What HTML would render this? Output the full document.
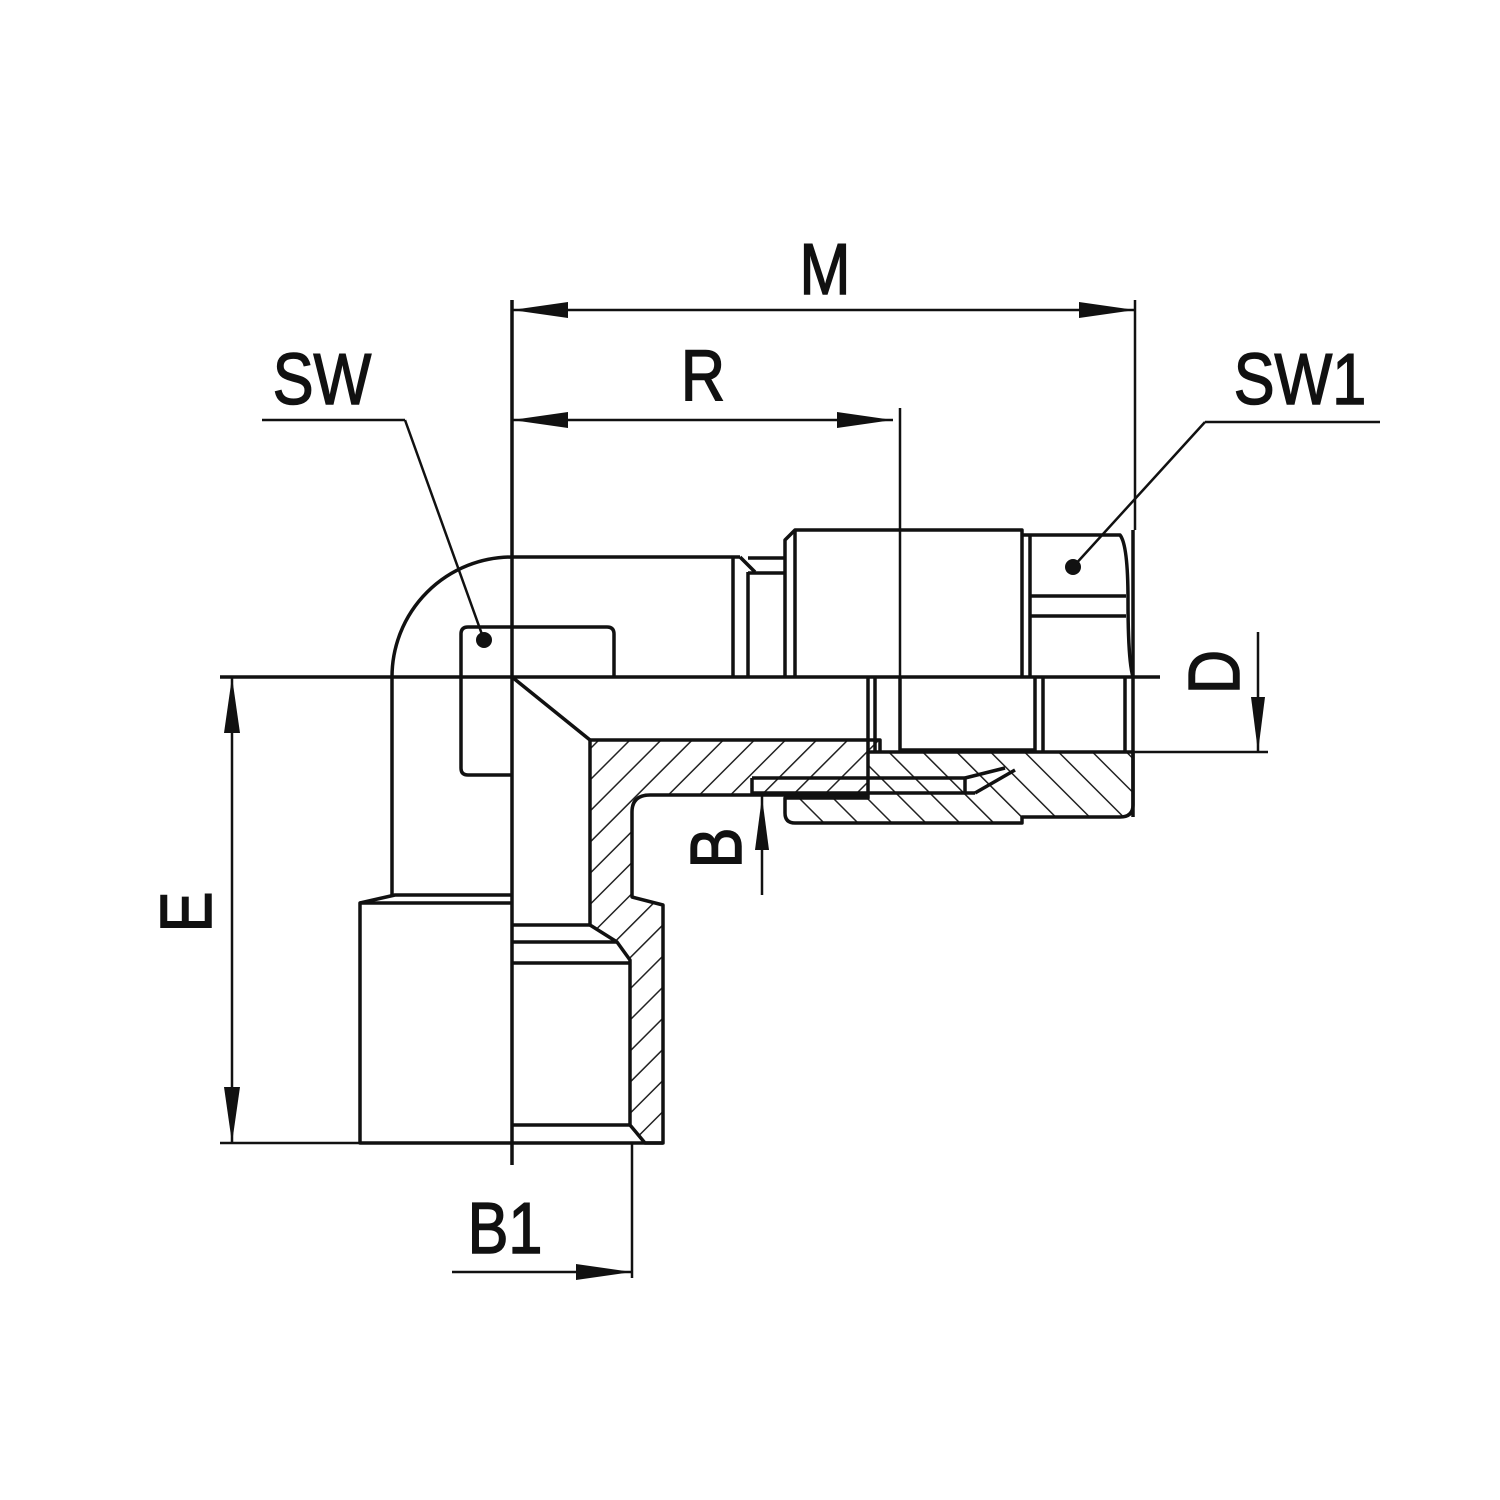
<!DOCTYPE html>
<html><head><style>html,body{margin:0;padding:0;background:#fff}svg{display:block}</style></head><body>
<svg width="1500" height="1500" viewBox="0 0 1500 1500" xmlns="http://www.w3.org/2000/svg">
<defs>
<pattern id="h" patternUnits="userSpaceOnUse" width="22" height="22" patternTransform="rotate(45)">
<rect width="22" height="22" fill="#fff"/><line x1="0" y1="0" x2="0" y2="22" stroke="#222" stroke-width="3"/>
</pattern>
<pattern id="h2" patternUnits="userSpaceOnUse" width="24" height="24" patternTransform="rotate(-45)">
<rect width="24" height="24" fill="#fff"/><line x1="0" y1="0" x2="0" y2="24" stroke="#222" stroke-width="3"/>
</pattern>
</defs>
<g fill="none" stroke="#111" stroke-width="3.5" stroke-linejoin="round">
<path fill="url(#h)" d="M590,740 L880,740 L880,795 L650,795 Q632,795 632,812 L632,897 L663,905 L663,1143 L645,1143 L630,1125 L630,960 L617,942 L590,925 Z"/>
<path fill="url(#h2)" d="M868,752 L1133,752 L1133,805 Q1133,817 1120,817 L1022,817 L1022,823 L795,823 Q785,823 785,813 L785,798 L868,798 Z"/>
<line x1="752" y1="778" x2="965" y2="778"/><line x1="752" y1="793" x2="975" y2="793"/>
<line x1="965" y1="778" x2="1005" y2="768"/><line x1="965" y1="778" x2="965" y2="793"/><line x1="975" y1="793" x2="1015" y2="770"/>
<line x1="752" y1="778" x2="752" y2="795"/>
<path d="M392,895 L392,677 A120,120 0 0 1 512,557 L740,557"/>
<line x1="733" y1="557" x2="733" y2="677"/><line x1="748" y1="572" x2="748" y2="677"/>
<line x1="740" y1="557" x2="755" y2="572"/>
<line x1="748" y1="558" x2="785" y2="558"/><line x1="748" y1="573" x2="785" y2="573"/>
<path d="M512,775 L468,775 Q461,775 461,768 L461,634 Q461,627 468,627 L607,627 Q614,627 614,634 L614,677"/>
<line x1="512" y1="677" x2="590" y2="740"/>
<path d="M785,677 L785,540 L795,530 L1022,530 L1022,677"/>
<line x1="795" y1="530" x2="795" y2="677"/>
<line x1="1030" y1="535" x2="1030" y2="677"/>
<path d="M1022,535 L1120,535 Q1128,545 1128,600 Q1128,660 1133,677"/>
<line x1="1030" y1="596" x2="1126" y2="596"/><line x1="1030" y1="616" x2="1126" y2="616"/>
<line x1="868" y1="677" x2="868" y2="752"/><line x1="875" y1="677" x2="875" y2="752"/>
<line x1="1035" y1="677" x2="1035" y2="752"/><line x1="1043" y1="677" x2="1043" y2="752"/>
<line x1="1125" y1="677" x2="1125" y2="752"/>
<path d="M900,677 L900,750 L1035,750"/>
<line x1="1133" y1="530" x2="1133" y2="817"/>
<path d="M512,903 L360,903 L360,1143 L512,1143"/>
<path d="M360,903 L395,895 L512,895"/>
<line x1="512" y1="925" x2="590" y2="925"/>
<line x1="512" y1="942" x2="617" y2="942"/>
<line x1="512" y1="963" x2="630" y2="963"/>
<line x1="512" y1="1125" x2="630" y2="1125"/>
<line x1="512" y1="1143" x2="663" y2="1143"/>
<line x1="512" y1="300" x2="512" y2="1165"/>
<line x1="220" y1="677" x2="1160" y2="677"/>
</g>
<g stroke="#111" stroke-width="2.5" fill="none">
<line x1="1135" y1="300" x2="1135" y2="530"/>
<line x1="900" y1="408" x2="900" y2="677"/>
<line x1="512" y1="310" x2="1135" y2="310"/>
<line x1="512" y1="420" x2="893" y2="420"/>
<line x1="262" y1="420" x2="405" y2="420"/><line x1="405" y1="420" x2="484" y2="640"/>
<line x1="1205" y1="422" x2="1380" y2="422"/><line x1="1205" y1="422" x2="1073" y2="567"/>
<line x1="232" y1="677" x2="232" y2="1143"/>
<line x1="220" y1="1143" x2="360" y2="1143"/>
<line x1="632" y1="1143" x2="632" y2="1278"/>
<line x1="452" y1="1272" x2="632" y2="1272"/>
<line x1="762" y1="795" x2="762" y2="895"/>
<line x1="1258" y1="632" x2="1258" y2="752"/>
<line x1="1133" y1="752" x2="1268" y2="752"/>
</g>
<g fill="#111">
<circle cx="484" cy="640" r="8"/><circle cx="1073" cy="567" r="8"/>
<polygon points="512,310 568,302 568,318"/><polygon points="1135,310 1079,302 1079,318"/>
<polygon points="512,420 568,412 568,428"/><polygon points="893,420 837,412 837,428"/>
<polygon points="232,677 224,733 240,733"/><polygon points="232,1143 224,1087 240,1087"/>
<polygon points="632,1272 576,1264 576,1280"/>
<polygon points="762,797 755,850 769,850"/>
<polygon points="1258,752 1251,697 1265,697"/>
</g>
<g font-family="'Liberation Sans', sans-serif" font-size="72" fill="#111" stroke="#111" stroke-width="1.5" text-anchor="middle">
<text x="0" y="0" transform="translate(825,294) scale(0.85,1)">M</text>
<text x="0" y="0" transform="translate(703,400) scale(0.85,1)">R</text>
<text x="0" y="0" transform="translate(322,404) scale(0.85,1)">SW</text>
<text x="0" y="0" transform="translate(1300,404) scale(0.85,1)">SW1</text>
<text x="0" y="0" transform="translate(505,1253) scale(0.85,1)">B1</text>
<text x="0" y="0" transform="translate(211,912) rotate(-90) scale(0.85,1)">E</text>
<text x="0" y="0" transform="translate(741,848) rotate(-90) scale(0.85,1)">B</text>
<text x="0" y="0" transform="translate(1239,672) rotate(-90) scale(0.85,1)">D</text>
</g>
</svg>
</body></html>
